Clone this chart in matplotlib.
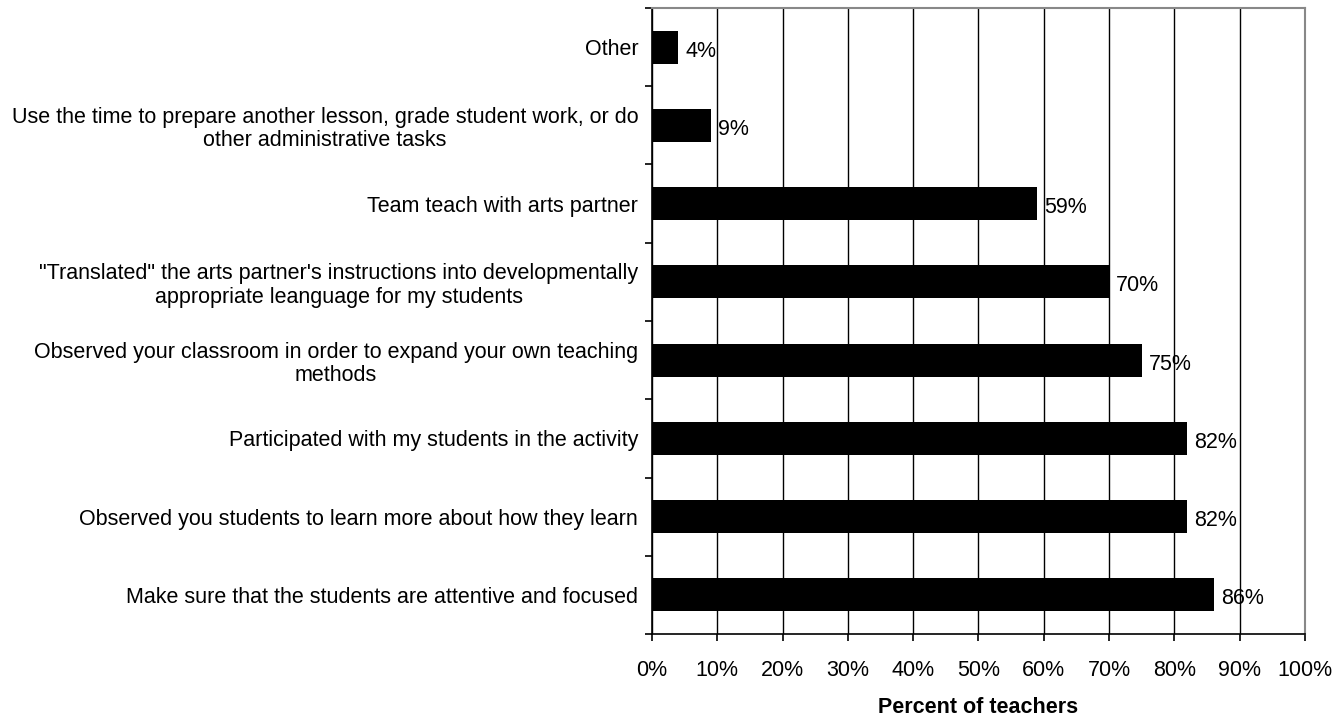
import numpy as np
import matplotlib
matplotlib.use('Agg')
import matplotlib.pyplot as plt
from matplotlib.ticker import FixedLocator, PercentFormatter

plt.rcParams['font.family'] = ['Liberation Sans', 'DejaVu Sans']

# top to bottom as shown
categories = [
    'Other',
    'Use the time to prepare another lesson, grade student work, or do\nother administrative tasks',
    'Team teach with arts partner',
    '"Translated" the arts partner\'s instructions into developmentally\nappropriate leanguage for my students',
    'Observed your classroom in order to expand your own teaching\nmethods',
    'Participated with my students in the activity',
    'Observed you students to learn more about how they learn',
    'Make sure that the students are attentive and focused',
]
percents = [4, 9, 59, 70, 75, 82, 82, 86]

FS = 15.5

fig = plt.figure(figsize=(13.35, 7.19), dpi=100)
ax = fig.add_axes([0.4884, 0.1182, 0.4891, 0.8707])

n = len(categories)
ypos = np.arange(n)
ax.barh(ypos, percents, height=0.42, color='black', zorder=3)
ax.set_ylim(n - 0.5, -0.5)
ax.set_xlim(0, 100)

for y, v in zip(ypos, percents):
    ax.text(v + 1.1, y + 0.05, f'{v}%', va='center', ha='left', fontsize=FS, zorder=4)

ax.set_yticks(ypos)
ax.set_yticklabels(categories, fontsize=FS, multialignment='center', linespacing=1.15)
ax.yaxis.set_minor_locator(FixedLocator(np.arange(-0.5, n, 1)))
ax.tick_params(axis='y', which='major', length=0, pad=10)
ax.tick_params(axis='y', which='minor', length=5, width=1.2, direction='out')

ax.set_xticks(np.arange(0, 101, 10))
ax.xaxis.set_major_formatter(PercentFormatter(decimals=0))
ax.tick_params(axis='x', length=5, width=1.2, direction='out', pad=14, labelsize=FS)
ax.set_xlabel('Percent of teachers', fontsize=FS, fontweight='bold', labelpad=11)

ax.grid(axis='x', color='black', linewidth=1, zorder=1)
ax.set_axisbelow(True)

for side in ('top', 'right'):
    ax.spines[side].set_color('#888888')
    ax.spines[side].set_linewidth(1.5)
ax.spines['left'].set_linewidth(1.2)
ax.spines['bottom'].set_linewidth(1.2)

fig.savefig('out.png', dpi=100)
